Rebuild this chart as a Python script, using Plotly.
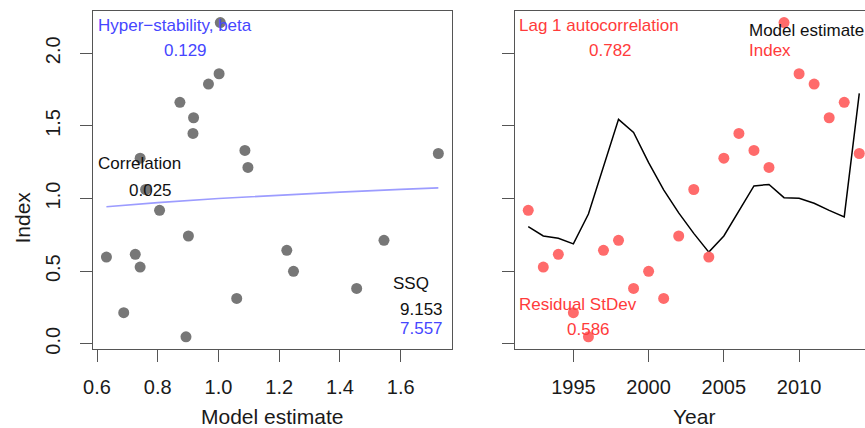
import plotly.graph_objects as go

# ---------------- data ----------------
years = list(range(1992, 2015))
model_est = [0.806, 0.742, 0.726, 0.688, 0.893, 1.225, 1.545, 1.455, 1.247, 1.060,
             0.901, 0.760, 0.631, 0.742, 0.916, 1.087, 1.097, 1.006, 1.002, 0.967,
             0.918, 0.873, 1.724]
index_vals = [0.919, 0.528, 0.616, 0.214, 0.048, 0.643, 0.712, 0.381, 0.499, 0.312,
              0.742, 1.062, 0.597, 1.278, 1.448, 1.331, 1.214, 2.211, 1.859, 1.788,
              1.556, 1.662, 1.310]
fit_x = [0.631, 0.80, 1.00, 1.20, 1.40, 1.60, 1.724]
fit_y = [0.943, 0.972, 1.000, 1.024, 1.044, 1.063, 1.073]

beta_txt = "0.129"
corr_txt = "0.025"
ssq1_txt = "9.153"
ssq2_txt = "7.557"
lag1_txt = "0.782"
resid_txt = "0.586"

left_xticks = [0.6, 0.8, 1.0, 1.2, 1.4, 1.6]
left_xticklabels = ["0.6", "0.8", "1.0", "1.2", "1.4", "1.6"]
yticks = [0.0, 0.5, 1.0, 1.5, 2.0]
yticklabels = ["0.0", "0.5", "1.0", "1.5", "2.0"]
right_xticks = [1995, 2000, 2005, 2010]
right_xticklabels = ["1995", "2000", "2005", "2010"]

# ---------------- layout helpers ----------------
W, H = 865, 428
FONT = "Liberation Sans, Arial, sans-serif"
GRAY = "#777777"
RED = "#ff6b6b"
REDTXT = "#ff3b3b"
BLUETXT = "#4646ff"
LINECOL = "#555555"


def px(x):
    return x / W


def py(y):
    return 1 - y / H


fig = go.Figure()

# left panel
fig.add_trace(go.Scatter(x=fit_x, y=fit_y, mode="lines",
                         line=dict(color="#9c9cff", width=1.6),
                         xaxis="x", yaxis="y", hoverinfo="skip"))
fig.add_trace(go.Scatter(x=model_est, y=index_vals, mode="markers",
                         marker=dict(color=GRAY, size=11),
                         xaxis="x", yaxis="y"))

# right panel
fig.add_trace(go.Scatter(x=years, y=model_est, mode="lines",
                         line=dict(color="black", width=1.5),
                         xaxis="x2", yaxis="y2"))
fig.add_trace(go.Scatter(x=years, y=index_vals, mode="markers",
                         marker=dict(color=RED, size=11),
                         xaxis="x2", yaxis="y2"))

axis_common = dict(showgrid=False, zeroline=False, showline=True,
                   linecolor=LINECOL, linewidth=1.2, ticks="outside",
                   ticklen=12, tickcolor=LINECOL, tickwidth=1.2,
                   tickfont=dict(family=FONT, size=20, color="#1a1a1a"),
                   automargin=False)

ydom = [py(348.7), py(11)]
fig.update_layout(
    width=W, height=H,
    margin=dict(l=0, r=0, t=0, b=0),
    paper_bgcolor="white", plot_bgcolor="white",
    showlegend=False,
    xaxis=dict(domain=[px(93), px(451.7)], range=[0.5868, 1.768],
               tickvals=left_xticks, ticktext=left_xticklabels,
               mirror=True, anchor="y", ticklabelstandoff=8, **axis_common),
    yaxis=dict(domain=ydom, range=[-0.034, 2.291],
               tickvals=yticks, ticktext=yticklabels, tickangle=-90,
               mirror=True, anchor="x", ticklabelstandoff=12, **axis_common),
    xaxis2=dict(domain=[px(515), 1.0], range=[1991.12, 1991.12 + 350 / 15.047],
                tickvals=right_xticks, ticktext=right_xticklabels,
                mirror=True, anchor="y2", ticklabelstandoff=8, **axis_common),
    yaxis2=dict(domain=ydom, range=[-0.034, 2.291],
                tickvals=yticks, showticklabels=False,
                mirror=False, anchor="x2", **axis_common),
)

ann = []


def add_text(text, x, y, color, size=17, xanchor="center", angle=0):
    ann.append(dict(text=text, x=px(x), y=py(y), xref="paper", yref="paper",
                    xanchor=xanchor, yanchor="middle", showarrow=False,
                    textangle=angle,
                    font=dict(family=FONT, size=size, color=color)))


# left panel texts
add_text("Hyper\u2212stability, beta", 96, 25, BLUETXT, xanchor="left")
add_text(beta_txt, 185.5, 51, BLUETXT)
add_text("Correlation", 96, 163.3, "#111111", xanchor="left")
add_text(corr_txt, 150.3, 190, "#111111")
add_text("SSQ", 411.3, 283.3, "#111111")
add_text(ssq1_txt, 421.7, 309.3, "#111111")
add_text(ssq2_txt, 421.7, 328.3, BLUETXT)

# right panel texts
add_text("Lag 1 autocorrelation", 517, 25, REDTXT, xanchor="left")
add_text(lag1_txt, 610.5, 51, REDTXT)
add_text("Model estimate", 747, 31, "#111111", xanchor="left")
add_text("Index", 747, 51, REDTXT, xanchor="left")
add_text("Residual StDev", 517, 304, REDTXT, xanchor="left")
add_text(resid_txt, 588.5, 329.3, REDTXT)

# axis titles
add_text("Model estimate", 272.3, 416, "#1a1a1a", size=21)
add_text("Year", 694, 416, "#1a1a1a", size=21)
add_text("Index", 21.5, 218, "#1a1a1a", size=21, angle=-90)

fig.update_layout(annotations=ann)

fig.write_html("out.html",
               config={"displayModeBar": False},
               post_script="document.body.style.margin='0px';"
                           "document.body.style.overflow='hidden';")
